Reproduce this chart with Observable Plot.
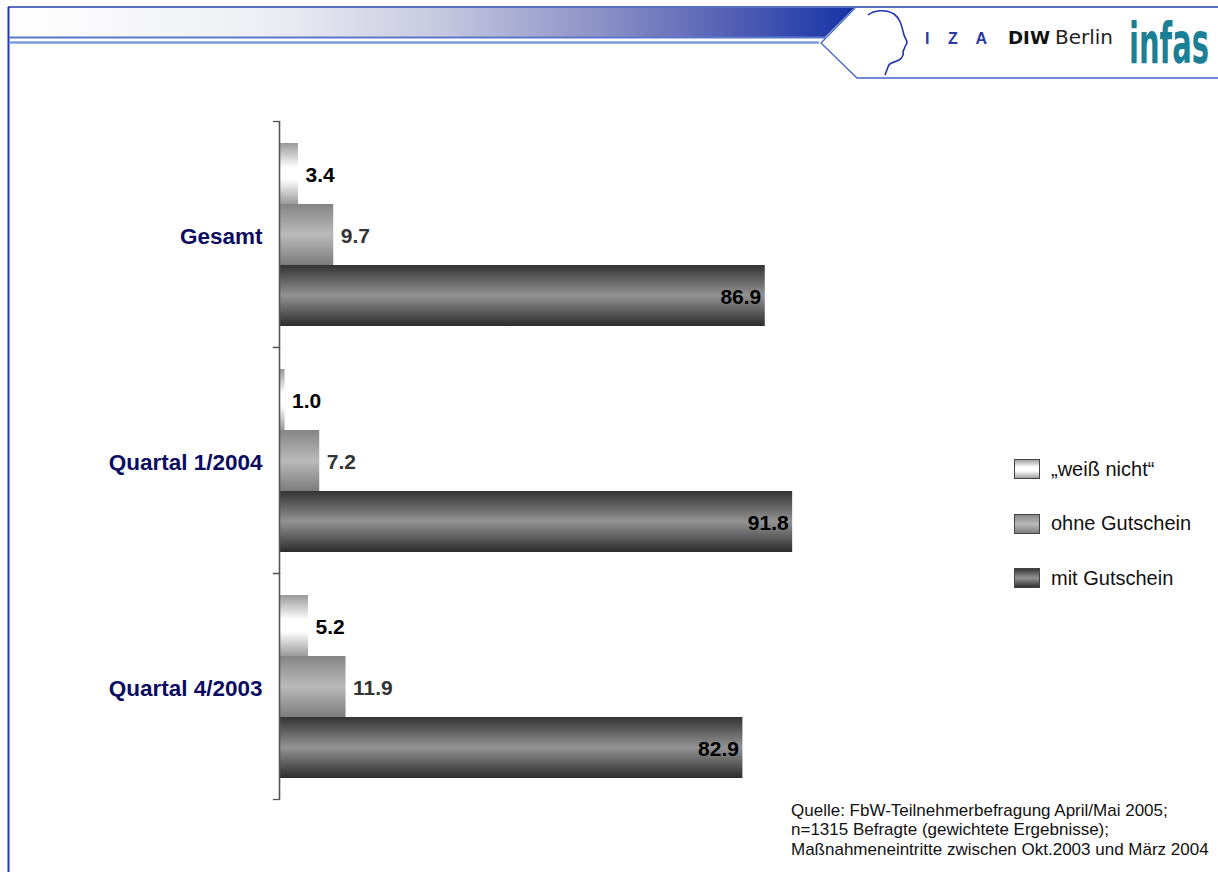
<!DOCTYPE html>
<html>
<head>
<meta charset="utf-8">
<script src="https://cdn.jsdelivr.net/npm/d3@7"></script>
<script src="https://cdn.jsdelivr.net/npm/@observablehq/plot@0.6"></script>
<style>
  html, body { margin: 0; padding: 0; background: #fff; }
  #page { position: relative; width: 1218px; height: 872px; overflow: hidden; background: #fff;
          font-family: "Liberation Sans", Arial, sans-serif; }
  #page > svg, #chart svg { position: absolute; left: 0; top: 0; }
  #legend { position: absolute; left: 1014px; top: 459px; }
  .lg-row { display: flex; align-items: center; height: 20px; margin-bottom: 34.5px; }
  .lg-row svg { position: static; margin-right: 11px; }
  .lg-row span { font-size: 20px; color: #111; white-space: nowrap; }
  #source { position: absolute; left: 791px; top: 801px; font-size: 17px; line-height: 19.3px; color: #111; white-space: nowrap; }
</style>
</head>
<body>
<div id="page">
  <svg id="header" width="1218" height="872" style="position:absolute;left:0;top:0">
    <defs>
      <linearGradient id="hdrGrad" x1="0" y1="0" x2="1" y2="0">
        <stop offset="0" stop-color="#ffffff"/>
        <stop offset="0.3" stop-color="#eeeff4"/>
        <stop offset="0.5" stop-color="#c9cbe0"/>
        <stop offset="0.7" stop-color="#8c91c6"/>
        <stop offset="0.85" stop-color="#5560b5"/>
        <stop offset="1" stop-color="#1533a6"/>
      </linearGradient>
    </defs>
    <polygon points="9,8 854,8 825,37 9,37" fill="url(#hdrGrad)"/>
    <line x1="8" y1="7" x2="1218" y2="7" stroke="#2040a8" stroke-width="1.5"/>
    <line x1="8.5" y1="7" x2="8.5" y2="872" stroke="#1a3aad" stroke-width="2"/>
    <line x1="9" y1="37.5" x2="825" y2="37.5" stroke="#5a78c8" stroke-width="2"/>
    <line x1="9" y1="42.5" x2="819" y2="42.5" stroke="#7d9be0" stroke-width="2.5"/>
    <polyline points="855,8 821,43 857,78 1218,78" fill="none" stroke="#4466c4" stroke-width="1.3"/>
    <path d="M868,15 C874,10 886,9 894,14 C901,19 902,28 904,35 C905,39 909,42 906,45 C904,47 905,49 903,51 C904,55 902,58 899,60 C894,63 889,62 888,67 C887,70 886,72 885,75"
          fill="none" stroke="#2233aa" stroke-width="1.6"/>
    <text x="925" y="44" font-family="Liberation Sans, Arial, sans-serif" font-size="16" font-weight="bold" fill="#2a3aa6" letter-spacing="7">I Z A</text>
    <text x="1008" y="44" font-family="DejaVu Sans, Liberation Sans, sans-serif" font-size="18" font-weight="bold" fill="#111" textLength="42" lengthAdjust="spacingAndGlyphs">DIW</text>
    <text x="1055" y="44" font-family="DejaVu Sans Condensed, Liberation Sans Narrow, sans-serif" font-size="19" fill="#222" textLength="58" lengthAdjust="spacingAndGlyphs">Berlin</text>
    <text transform="translate(1129,63) scale(1,1.7)" font-family="DejaVu Sans Condensed, Liberation Sans Narrow, sans-serif" font-size="33" font-weight="bold" fill="#1b7f96" textLength="80" lengthAdjust="spacingAndGlyphs">infas</text>
  </svg>
  <div id="chart"></div>
  <div id="legend"></div>
  <div id="source">Quelle: FbW-Teilnehmerbefragung April/Mai 2005;<br>n=1315 Befragte (gewichtete Ergebnisse);<br>Maßnahmeneintritte zwischen Okt.2003 und März 2004</div>
</div>
<script>
// ---- data ----
const categories = ["Gesamt", "Quartal 1/2004", "Quartal 4/2003"];
const seriesNames = ["„weiß nicht“", "ohne Gutschein", "mit Gutschein"];
const weissNicht = [3.4, 1.0, 5.2];
const ohneGutschein = [9.7, 7.2, 11.9];
const mitGutschein = [86.9, 91.8, 82.9];

const seriesValues = [weissNicht, ohneGutschein, mitGutschein];
const gradientIds = ["gWeiss", "gOhne", "gMit"];
const gradientStops = [
  [["0", "#9a9a9a"], ["0.4", "#ffffff"], ["0.6", "#ffffff"], ["1", "#9a9a9a"]],
  [["0", "#858585"], ["0.5", "#bababa"], ["1", "#7c7c7c"]],
  [["0", "#333333"], ["0.5", "#939393"], ["1", "#2c2c2c"]]
];
const labelColors = ["#000", "#333", "#000"];

const data = [];
categories.forEach((c, i) => {
  seriesNames.forEach((s, j) => {
    data.push({category: c, series: s, value: seriesValues[j][i], si: j});
  });
});

const font = "Liberation Sans, Arial, sans-serif";

const chart = Plot.plot({
  width: 1218,
  height: 872,
  marginLeft: 279,
  marginRight: 380,
  marginTop: 120,
  marginBottom: 72,
  style: {fontFamily: font, background: "transparent", overflow: "visible"},
  x: {domain: [0, 100], axis: null},
  y: {domain: seriesNames, axis: null, paddingInner: 0, paddingOuter: 0.33},
  fy: {domain: categories, axis: null, padding: 0},
  color: {domain: seriesNames, range: gradientIds.map(id => `url(#${id})`)},
  marks: [
    Plot.barX(data, {fy: "category", y: "series", x: "value", fill: "series", insetTop: 0, insetBottom: 0}),
    Plot.ruleX([0], {stroke: "#555", strokeWidth: 1.6}),
    Plot.frame({anchor: "top", insetLeft: -6, insetRight: 559, stroke: "#555", strokeWidth: 1.3}),
    Plot.frame({anchor: "bottom", insetLeft: -6, insetRight: 559, stroke: "#555", strokeWidth: 1.3}),
    Plot.text(data.filter(d => d.si < 2), {
      fy: "category", y: "series", x: "value",
      text: d => d.value.toFixed(1),
      textAnchor: "start", dx: 7, dy: 1,
      fill: d => labelColors[d.si],
      fontWeight: "bold", fontSize: 21
    }),
    Plot.text(data.filter(d => d.si === 2), {
      fy: "category", y: "series", x: "value",
      text: d => d.value.toFixed(1),
      textAnchor: "end", dx: -4, dy: 1,
      fill: "#000",
      fontWeight: "bold", fontSize: 21
    }),
    Plot.text(categories, {
      fy: d => d, text: d => d,
      frameAnchor: "left", textAnchor: "end", dx: -17, dy: 2,
      fill: "#0b0b60", fontWeight: "bold", fontSize: 22.5
    })
  ]
});

// gradient definitions
function addGradients(svgSel) {
  const defs = svgSel.insert("defs", ":first-child");
  gradientIds.forEach((id, j) => {
    const g = defs.append("linearGradient").attr("id", id)
      .attr("x1", 0).attr("y1", 0).attr("x2", 0).attr("y2", 1);
    gradientStops[j].forEach(([o, c]) => g.append("stop").attr("offset", o).attr("stop-color", c));
  });
}
addGradients(d3.select(chart));
document.getElementById("chart").appendChild(chart);

// legend
const legend = d3.select("#legend");
seriesNames.forEach((s, j) => {
  const row = legend.append("div").attr("class", "lg-row");
  const sw = row.append("svg").attr("width", 26).attr("height", 20);
  sw.append("rect").attr("x", 0.5).attr("y", 0.5).attr("width", 25).attr("height", 19)
    .attr("fill", `url(#${gradientIds[j]})`).attr("stroke", "#444").attr("stroke-width", 1);
  row.append("span").text(s);
});
</script>
</body>
</html>
